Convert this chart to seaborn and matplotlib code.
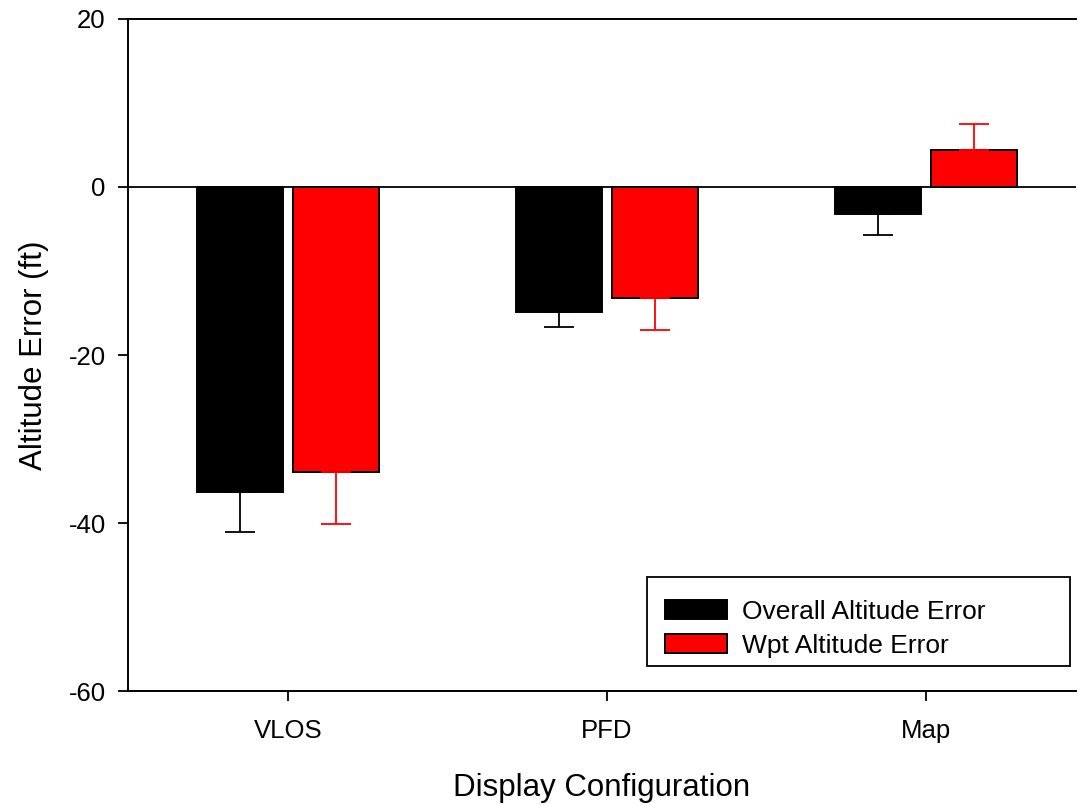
import matplotlib
matplotlib.use("Agg")
import matplotlib.pyplot as plt
import seaborn as sns
import pandas as pd
import numpy as np
from matplotlib.patches import Rectangle
from matplotlib.legend_handler import HandlerPatch

categories = ["VLOS", "PFD", "Map"]
series = ["Overall Altitude Error", "Wpt Altitude Error"]
overall_vals = [-36.3, -14.9, -3.2]
overall_err = [4.8, 1.8, 2.5]
wpt_vals = [-33.9, -13.2, 4.4]
wpt_err = [6.2, 3.8, 3.1]
colors = ["#000000", "#ff0000"]

df = pd.DataFrame({
    "Display Configuration": categories * 2,
    "value": overall_vals + wpt_vals,
    "series": [series[0]] * 3 + [series[1]] * 3,
})
errs = {series[0]: overall_err, series[1]: wpt_err}

sns.set_style("white")
plt.rcParams["font.family"] = ["Liberation Sans", "DejaVu Sans"]
plt.rcParams["axes.unicode_minus"] = False
plt.rcParams["text.color"] = "black"
plt.rcParams["axes.labelcolor"] = "black"
plt.rcParams["xtick.color"] = "black"
plt.rcParams["ytick.color"] = "black"

fig = plt.figure(figsize=(10.78, 8.05), dpi=100)
ax = fig.add_axes([128 / 1078, 1 - 691 / 805, 948 / 1078, 672 / 805])

sns.barplot(data=df, x="Display Configuration", y="value", hue="series",
            palette=colors, saturation=1, edgecolor="black", linewidth=1.4,
            width=0.6, gap=0.1, ax=ax, errorbar=None)

for cont, name, col in zip(ax.containers, series, colors):
    xs, ys, lo, hi = [], [], [], []
    for bar, e in zip(cont, errs[name]):
        h = bar.get_height()
        xs.append(bar.get_x() + bar.get_width() / 2)
        ys.append(h)
        if h < 0:
            lo.append(e); hi.append(0)
        else:
            lo.append(0); hi.append(e)
    ax.errorbar(xs, ys, yerr=[lo, hi], fmt="none", ecolor=col,
                elinewidth=1.3, capsize=10.8, capthick=1.3, zorder=1)

ax.axhline(0, color="black", lw=1.3, zorder=3)

ax.set_xlim(-0.502, 2.47)
ax.set_ylim(-60, 20)
ax.set_yticks([-60, -40, -20, 0, 20])
ax.set_ylabel("Altitude Error (ft)", fontsize=22.5, labelpad=14)
ax.set_xlabel("Display Configuration", fontsize=22.5, labelpad=22)

for s in ["left", "bottom", "top"]:
    ax.spines[s].set_visible(True)
    ax.spines[s].set_color("black")
    ax.spines[s].set_linewidth(1.4)
ax.spines["right"].set_visible(False)

ax.tick_params(axis="both", direction="out", length=7, width=1.3,
               colors="black", labelsize=18.5)
ax.tick_params(axis="y", pad=9, left=True)
ax.tick_params(axis="x", pad=13, bottom=True)

SHIFT = 7.2  # points


def shifted_rect(legend, orig_handle, xdescent, ydescent, width, height, fontsize):
    return Rectangle((-xdescent + SHIFT, -ydescent), width - SHIFT, height)


leg = ax.legend(loc="upper left", bbox_to_anchor=(0.5475, 0.0417, 0.4462, 0.128),
                mode="expand", borderaxespad=0, fontsize=19, frameon=True,
                fancybox=False, edgecolor="black", handlelength=2.73,
                handleheight=0.76, borderpad=0.3, labelspacing=0.38,
                handletextpad=0.57, title=" ", title_fontsize=4,
                handler_map={Rectangle: HandlerPatch(patch_func=shifted_rect)})
leg.get_frame().set_linewidth(1.3)
leg.get_frame().set_alpha(1)
for h in leg.legend_handles:
    h.set_edgecolor("black")
    h.set_linewidth(1.4)

fig.savefig("out.png", dpi=100)
